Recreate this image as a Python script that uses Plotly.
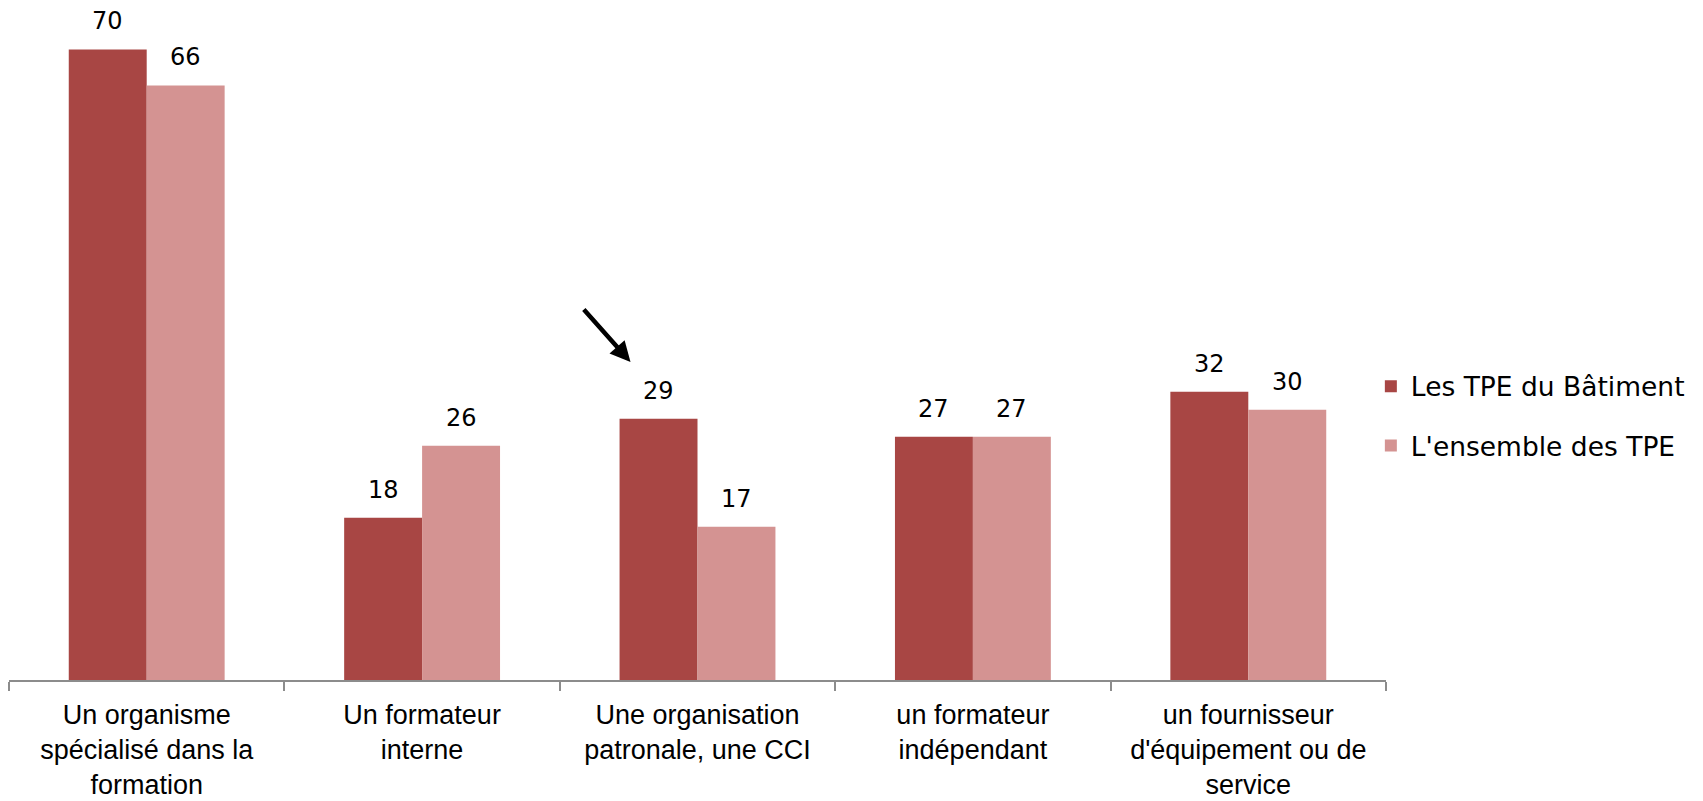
import plotly.graph_objects as go

categories = [
    "Un organisme<br>spécialisé dans la<br>formation",
    "Un formateur<br>interne",
    "Une organisation<br>patronale, une CCI",
    "un formateur<br>indépendant",
    "un fournisseur<br>d'équipement ou de<br>service",
]
batiment = [70, 18, 29, 27, 32]
ensemble = [66, 26, 17, 27, 30]
series_names = ["Les TPE du Bâtiment", "L'ensemble des TPE"]
colors = ["#A84644", "#D49392"]

W, H = 1703, 801
ml, mr, mt, mb = 1, 325, 0, 129
plot_w = W - ml - mr
cat_w = plot_w / len(categories)
bargap = 0.434
bar_w = cat_w * (1 - bargap) / 2

fig = go.Figure()
for name, vals, col, grp in [(series_names[0], batiment, colors[0], "a"),
                             (series_names[1], ensemble, colors[1], "b")]:
    fig.add_trace(go.Bar(x=categories, y=vals, name=name, marker_color=col,
                         marker_line_width=0, legendgroup=grp))

label_font = dict(family="DejaVu Sans, sans-serif", size=24, color="#000000")
for vals, sign in [(batiment, -1), (ensemble, 1)]:
    for c, v in zip(categories, vals):
        fig.add_annotation(x=c, y=v, xref="x", yref="y", text=str(v), showarrow=False,
                           xshift=sign * bar_w / 2, yshift=28, font=label_font)

# arrow pointing at the 29 label
fig.add_annotation(x=categories[2], y=35.3, xref="x", yref="y", xshift=-67, text="",
                   showarrow=True, arrowhead=2, arrowsize=0.9, arrowwidth=4.5,
                   arrowcolor="#000000", ax=-48, ay=-54)

fig.update_layout(
    width=W, height=H,
    margin=dict(l=ml, r=mr, t=mt, b=mb, autoexpand=False),
    paper_bgcolor="white", plot_bgcolor="white",
    barmode="group", bargap=bargap, bargroupgap=0,
    showlegend=True,
    legend=dict(x=0.989, xanchor="left", y=0.393, yanchor="middle",
                font=dict(family="DejaVu Sans, sans-serif", size=26.5, color="#000000"),
                tracegroupgap=22, itemwidth=30, bgcolor="rgba(0,0,0,0)"),
    xaxis=dict(showline=True, linecolor="#8c8c8c", linewidth=1.5, ticks="outside",
               tickson="boundaries", ticklen=9, tickcolor="#8c8c8c", tickwidth=1.5,
               tickfont=dict(family="Liberation Sans, Arial, sans-serif",
                             size=27, color="#000000"),
               ticklabelstandoff=10, showgrid=False),
    yaxis=dict(visible=False, range=[0, 74.6], showgrid=False),
)

fig.write_html("out.html")
